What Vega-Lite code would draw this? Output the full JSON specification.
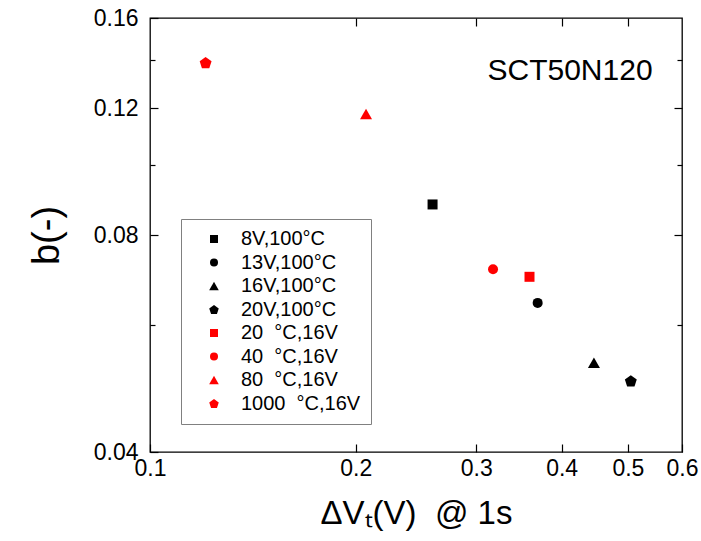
{
  "$schema": "https://vega.github.io/schema/vega-lite/v6.json",
  "width": 532,
  "height": 434,
  "autosize": {"type": "none"},
  "padding": {"left": 150, "top": 18, "right": 19, "bottom": 89},
  "background": "#ffffff",
  "config": {
    "font": "Liberation Sans",
    "view": {"stroke": "#000000", "strokeWidth": 1.3},
    "axis": {"domain": false, "grid": false, "tickColor": "#000000", "tickWidth": 1.2, "labelColor": "#000000", "titleColor": "#000000", "labelFont": "Liberation Sans", "titleFont": "Liberation Sans", "titleFontWeight": "normal"}
  },
  "data": {
    "values": [
      {"series": "8V,100°C", "x": 0.259, "y": 0.0882},
      {"series": "13V,100°C", "x": 0.369, "y": 0.0644},
      {"series": "16V,100°C", "x": 0.446, "y": 0.0532},
      {"series": "20V,100°C", "x": 0.505, "y": 0.0502},
      {"series": "20\u00a0\u00a0°C,16V", "x": 0.359, "y": 0.0700},
      {"series": "40\u00a0\u00a0°C,16V", "x": 0.3175, "y": 0.0717},
      {"series": "80\u00a0\u00a0°C,16V", "x": 0.207, "y": 0.1177},
      {"series": "1000\u00a0\u00a0°C,16V", "x": 0.1206, "y": 0.1387}
    ]
  },
  "layer": [
    {
      "mark": {"type": "point", "filled": true, "size": 100, "opacity": 1},
      "encoding": {
        "x": {
          "field": "x", "type": "quantitative",
          "scale": {"type": "log", "domain": [0.1, 0.6], "nice": false, "zero": false},
          "axis": {"orient": "bottom", "values": [0.1, 0.2, 0.3, 0.4, 0.5, 0.6], "format": ".1f", "tickSize": -8, "labelPadding": 13, "labelFontSize": 23, "labelFlush": false, "labelOverlap": false, "title": "ΔVₜ(V)\u00a0\u00a0@ 1s", "titleFontSize": 33, "titlePadding": 17}
        },
        "y": {
          "field": "y", "type": "quantitative",
          "scale": {"type": "log", "domain": [0.04, 0.16], "nice": false, "zero": false},
          "axis": {"orient": "left", "values": [0.04, 0.08, 0.12, 0.16], "format": ".2f", "tickSize": -8, "labelPadding": 20, "labelFontSize": 23, "labelFlush": false, "labelOverlap": false, "title": "b(-)", "titleFontSize": 38, "titlePadding": 27}
        },
        "color": {
          "field": "series", "type": "nominal",
          "scale": {
            "domain": ["8V,100°C", "13V,100°C", "16V,100°C", "20V,100°C", "20\u00a0\u00a0°C,16V", "40\u00a0\u00a0°C,16V", "80\u00a0\u00a0°C,16V", "1000\u00a0\u00a0°C,16V"],
            "range": ["#000000", "#000000", "#000000", "#000000", "#ff0000", "#ff0000", "#ff0000", "#ff0000"]
          },
          "legend": {
            "title": null, "orient": "none", "legendX": 31, "legendY": 201,
            "strokeColor": "#808080", "fillColor": "#ffffff", "padding": 10,
            "labelFontSize": 20, "labelFont": "Liberation Sans", "labelColor": "#000000",
            "symbolSize": 64, "symbolStrokeWidth": 0, "symbolOffset": 13, "labelOffset": 17,
            "rowPadding": 3.5, "labelLimit": 300
          }
        },
        "shape": {
          "field": "series", "type": "nominal",
          "scale": {
            "domain": ["8V,100°C", "13V,100°C", "16V,100°C", "20V,100°C", "20\u00a0\u00a0°C,16V", "40\u00a0\u00a0°C,16V", "80\u00a0\u00a0°C,16V", "1000\u00a0\u00a0°C,16V"],
            "range": ["square", "circle", "M0,-1.05L1.2,1.05L-1.2,1.05Z", "M0,-1.13L1.19,-0.27L0.735,1.13L-0.735,1.13L-1.19,-0.27Z", "square", "circle", "M0,-1.05L1.2,1.05L-1.2,1.05Z", "M0,-1.13L1.19,-0.27L0.735,1.13L-0.735,1.13L-1.19,-0.27Z"]
          }
        }
      }
    },
    {
      "data": {"values": [{"label": "SCT50N120"}]},
      "mark": {"type": "text", "fontSize": 30, "fontWeight": "normal", "font": "Liberation Sans", "align": "center", "baseline": "middle", "fill": "#000000"},
      "encoding": {
        "x": {"datum": 0.4115, "type": "quantitative", "axis": {"orient": "top", "values": [0.2, 0.3, 0.4, 0.5], "labels": false, "tickSize": -8, "title": null}},
        "y": {"datum": 0.135, "type": "quantitative", "axis": {"orient": "right", "values": [0.08, 0.12], "labels": false, "tickSize": -8, "title": null}},
        "text": {"field": "label"}
      }
    },
    {
      "mark": {"type": "point", "opacity": 0},
      "encoding": {
        "x": {"field": "x", "type": "quantitative", "axis": null},
        "y": {"field": "y", "type": "quantitative", "axis": {"orient": "left", "values": [0.06, 0.1, 0.14], "labels": false, "tickSize": -5, "title": null}}
      }
    },
    {
      "mark": {"type": "point", "opacity": 0},
      "encoding": {
        "x": {"field": "x", "type": "quantitative", "axis": null},
        "y": {"field": "y", "type": "quantitative", "axis": {"orient": "right", "values": [0.06, 0.1, 0.14], "labels": false, "tickSize": -5, "title": null}}
      }
    }
  ],
  "resolve": {"axis": {"x": "independent", "y": "independent"}}
}
